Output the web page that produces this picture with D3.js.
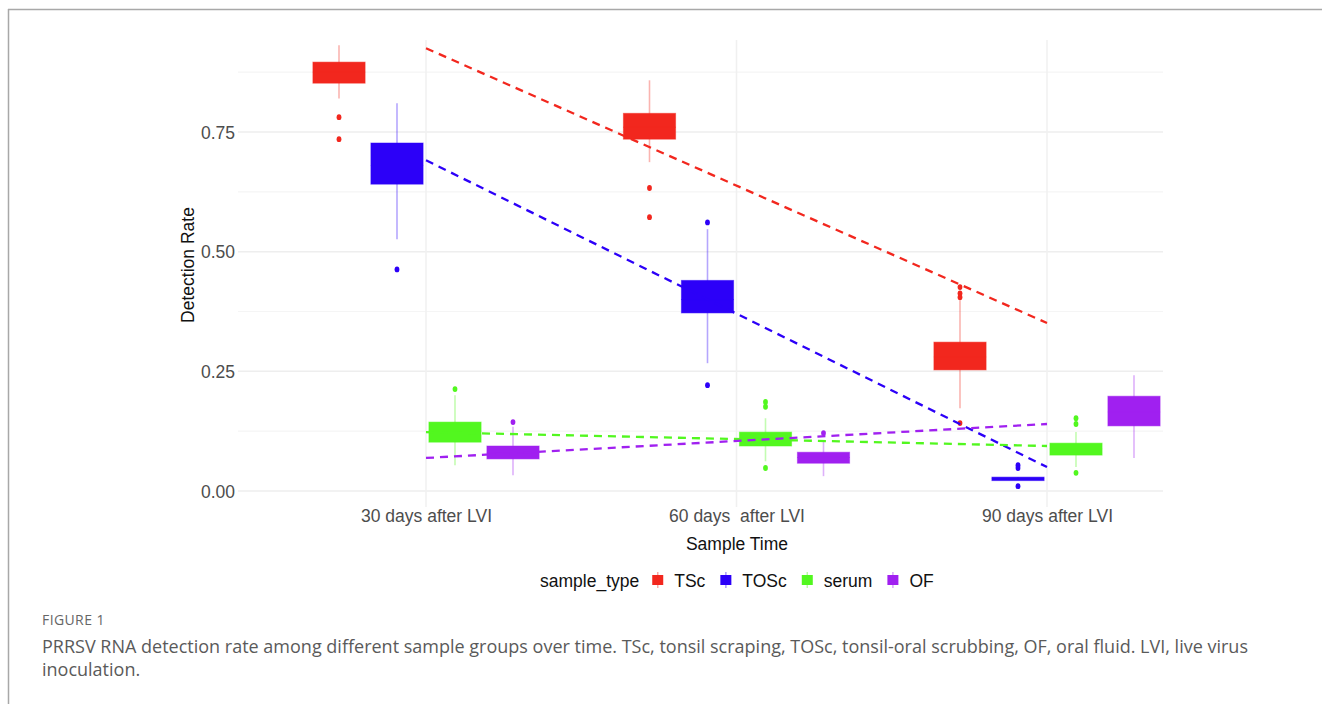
<!DOCTYPE html>
<html><head><meta charset="utf-8">
<script src="https://cdn.jsdelivr.net/npm/d3@7"></script>
<style>body{margin:0;background:#fff}svg{display:block}text{white-space:pre}</style>
</head><body>
<svg id="chart" width="1322" height="704"></svg>
<script>
// ---- data ----
const times = ["30 days after LVI", "60 days  after LVI", "90 days after LVI"];
const sampleTypes = ["TSc", "TOSc", "serum", "OF"];
const typeColors = ["#F2271E", "#2C00F8", "#52F71F", "#A020F0"];
const yTicks = [0, 0.25, 0.5, 0.75];
// box stats per time (rows) and sample type (cols): [lowerWhisker, q1, median, q3, upperWhisker]
const TSc  = [[0.820,0.852,0.875,0.896,0.931],[0.687,0.735,0.760,0.789,0.858],[0.173,0.253,0.280,0.311,0.403]];
const TOSc = [[0.526,0.641,0.680,0.727,0.810],[0.267,0.372,0.400,0.440,0.547],[0.023,0.023,0.026,0.029,0.029]];
const serum= [[0.054,0.102,0.125,0.144,0.200],[0.062,0.094,0.110,0.123,0.152],[0.050,0.075,0.088,0.100,0.123]];
const OF   = [[0.033,0.067,0.080,0.094,0.134],[0.031,0.058,0.070,0.081,0.106],[0.069,0.136,0.165,0.198,0.242]];
const outTSc  = [[0.781,0.735],[0.633,0.572],[0.426,0.413,0.405,0.142]];
const outTOSc = [[0.463],[0.561,0.221],[0.054,0.048,0.010]];
const outSerum= [[0.213],[0.186,0.176,0.048],[0.152,0.140,0.038]];
const outOF   = [[0.144],[0.121],[]];
// linear trend (dashed) per type: value at first and last time point
const trendStart = [0.925, 0.691, 0.123, 0.069];
const trendEnd   = [0.351, 0.050, 0.094, 0.140];

const boxStats = [TSc, TOSc, serum, OF];
const outliers = [outTSc, outTOSc, outSerum, outOF];

// ---- layout ----
const svg = d3.select("#chart");
const panel = {left:238, right:1163, top:40, bottom:507};
const y = d3.scaleLinear().domain([0, 0.75]).range([491, 132]);
const x = d3.scalePoint().domain(times).range([426, 1047]);
const xSub = d3.scaleBand().domain(sampleTypes).range([-116, 116]).padding(0);
const boxW = xSub.bandwidth() * 0.9;
const color = d3.scaleOrdinal().domain(sampleTypes).range(typeColors);

// frame
svg.append("line").attr("x1",8).attr("x2",1322).attr("y1",9.5).attr("y2",9.5).attr("stroke","#a8a8a8").attr("stroke-width",1.5);
svg.append("line").attr("x1",8.5).attr("x2",8.5).attr("y1",9).attr("y2",704).attr("stroke","#a8a8a8").attr("stroke-width",1.5);

// grid
const g = svg.append("g");
const minor = [0.125, 0.375, 0.625, 0.875];
g.selectAll(".minor").data(minor).join("line")
  .attr("x1",panel.left).attr("x2",panel.right)
  .attr("y1",d=>y(d)).attr("y2",d=>y(d)).attr("stroke","#f5f5f5").attr("stroke-width",1.2);
g.selectAll(".major").data(yTicks).join("line")
  .attr("x1",panel.left).attr("x2",panel.right)
  .attr("y1",d=>y(d)).attr("y2",d=>y(d)).attr("stroke","#eeeeee").attr("stroke-width",1.5);
g.selectAll(".vgrid").data(times).join("line")
  .attr("x1",d=>x(d)).attr("x2",d=>x(d))
  .attr("y1",panel.top).attr("y2",panel.bottom).attr("stroke","#f0f0f0").attr("stroke-width",1.5);

// y axis labels
const yAxis = d3.axisLeft(y).tickValues(yTicks).tickFormat(d3.format(".2f")).tickSize(0).tickPadding(0);
const ya = svg.append("g").attr("transform","translate(235,0)").call(yAxis);
ya.select(".domain").remove();
ya.selectAll("text").attr("font-family","Liberation Sans, Arial, sans-serif").attr("font-size","17.5px").attr("fill","#4d4d4d").attr("dy","0.35em");

// x axis labels
const xAxis = d3.axisBottom(x).tickSize(0).tickPadding(0);
const xa = svg.append("g").attr("transform","translate(0,510)").call(xAxis);
xa.select(".domain").remove();
xa.selectAll("text").attr("font-family","Liberation Sans, Arial, sans-serif").attr("font-size","17.5px").attr("fill","#4d4d4d").attr("dy","0.71em").style("white-space","pre");

// axis titles
svg.append("text").attr("x",737).attr("y",550).attr("text-anchor","middle")
  .attr("font-family","Liberation Sans, Arial, sans-serif").attr("font-size","17.5px").attr("fill","#111").text("Sample Time");
svg.append("text").attr("transform","translate(194,265) rotate(-90)").attr("text-anchor","middle")
  .attr("font-family","Liberation Sans, Arial, sans-serif").attr("font-size","17.5px").attr("fill","#111").text("Detection Rate");

// boxes
const boxes = [];
sampleTypes.forEach((t,ti)=>{
  times.forEach((tm,i)=>{
    const s = boxStats[ti][i];
    boxes.push({type:t, time:tm, lo:s[0], q1:s[1], med:s[2], q3:s[3], hi:s[4], out:outliers[ti][i]});
  });
});
const bg = svg.append("g");
const bx = d => x(d.time) + xSub(d.type) + xSub.bandwidth()/2;
// whiskers
bg.selectAll(".wh").data(boxes).join("line")
  .attr("x1",bx).attr("x2",bx).attr("y1",d=>y(d.hi)).attr("y2",d=>y(d.lo))
  .attr("stroke",d=>color(d.type)).attr("stroke-opacity",0.35).attr("stroke-width",1.6);
// boxes
bg.selectAll(".bx").data(boxes).join("rect")
  .attr("x",d=>bx(d)-boxW/2).attr("width",boxW)
  .attr("y",d=>y(d.q3)).attr("height",d=>Math.max(3.5,y(d.q1)-y(d.q3)))
  .attr("fill",d=>color(d.type)).attr("stroke",d=>color(d.type)).attr("stroke-opacity",0.5).attr("stroke-width",1);
// medians
bg.selectAll(".md").data(boxes).join("line")
  .attr("x1",d=>bx(d)-boxW/2).attr("x2",d=>bx(d)+boxW/2).attr("y1",d=>y(d.med)).attr("y2",d=>y(d.med))
  .attr("stroke",d=>color(d.type)).attr("stroke-width",1);
// outliers
const outs = boxes.flatMap(d=>d.out.map(v=>({type:d.type,time:d.time,v})));
bg.selectAll(".ol").data(outs).join("ellipse")
  .attr("cx",d=>bx(d)).attr("cy",d=>y(d.v)).attr("rx",2.4).attr("ry",2.9)
  .attr("fill",d=>color(d.type));

// trend lines
const trends = sampleTypes.map((t,i)=>({type:t, pts:[[times[0],trendStart[i]],[times[times.length-1],trendEnd[i]]]}));
const line = d3.line().x(p=>x(p[0])).y(p=>y(p[1]));
svg.append("g").selectAll("path").data(trends).join("path")
  .attr("d",d=>line(d.pts)).attr("fill","none").attr("stroke",d=>color(d.type))
  .attr("stroke-width",2.3).attr("stroke-dasharray","8,6");

// legend
const lg = svg.append("g");
const lf = "Liberation Sans, Arial, sans-serif";
let lx = 540; const ly = 587;
const title = lg.append("text").attr("x",lx).attr("y",ly).attr("font-family",lf).attr("font-size","17.5px").attr("fill","#111").text("sample_type");
lx += title.node().getComputedTextLength() + 13;
sampleTypes.forEach((t,i)=>{
  lg.append("line").attr("x1",lx+5.5).attr("x2",lx+5.5).attr("y1",ly-15).attr("y2",ly+1).attr("stroke",color(t)).attr("stroke-opacity",0.4).attr("stroke-width",1.5);
  lg.append("rect").attr("x",lx).attr("y",ly-12).attr("width",11).attr("height",10).attr("fill",color(t));
  lx += 22;
  const tx = lg.append("text").attr("x",lx).attr("y",ly).attr("font-family",lf).attr("font-size","17.5px").attr("fill","#111").text(t);
  lx += tx.node().getComputedTextLength() + 15;
});

// caption
const cf = "Open Sans, Lato, sans-serif";
svg.append("text").attr("x",42).attr("y",625).attr("font-family",cf).attr("font-size","14px").attr("fill","#666").attr("letter-spacing","0.4px").text("FIGURE 1");
svg.append("text").attr("x",42).attr("y",653).attr("font-family",cf).attr("font-size","18px").attr("fill","#5a5a5a").text("PRRSV RNA detection rate among different sample groups over time. TSc, tonsil scraping, TOSc, tonsil-oral scrubbing, OF, oral fluid. LVI, live virus");
svg.append("text").attr("x",42).attr("y",676).attr("font-family",cf).attr("font-size","18px").attr("fill","#5a5a5a").text("inoculation.");
</script>
</body></html>
